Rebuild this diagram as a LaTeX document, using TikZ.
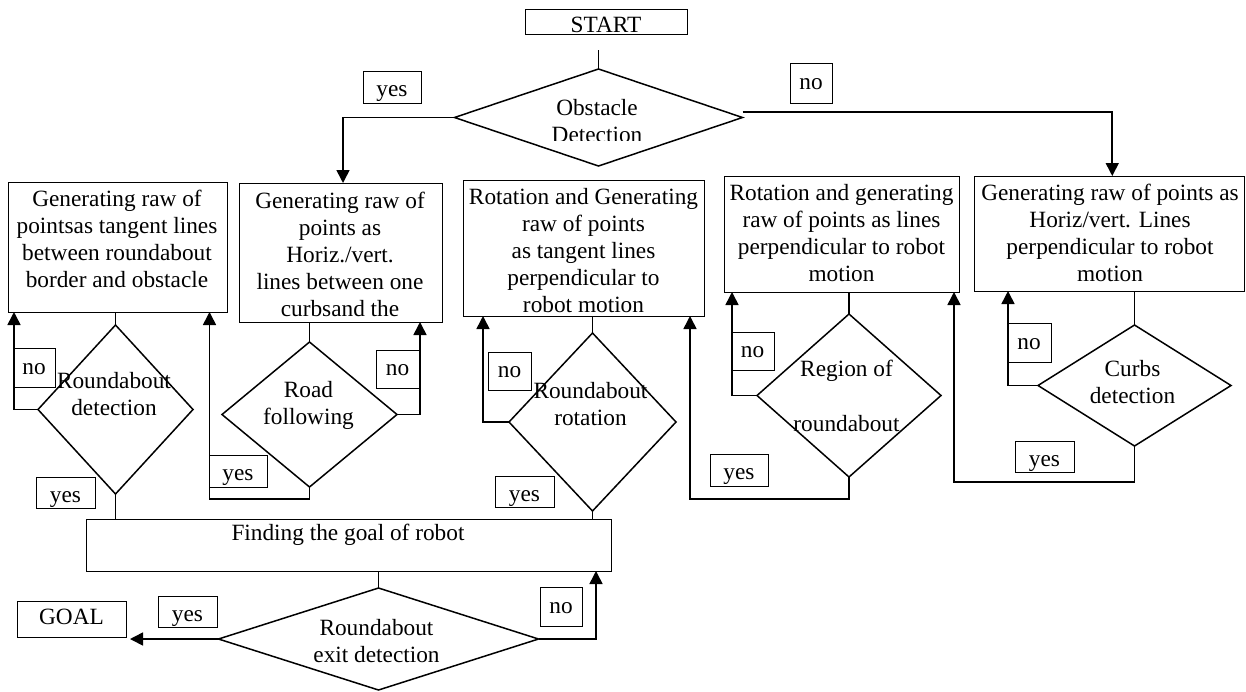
\documentclass[tikz,border=0pt]{standalone}
\usepackage{fontspec}
\setmainfont{Liberation Serif}
\usetikzlibrary{shapes.geometric,arrows.meta}
\tikzset{
  procbox/.style={draw, line width=1pt, inner sep=0pt, outer sep=0pt},
  decision/.style={draw, diamond, line width=1.5pt, inner sep=0pt, outer sep=0pt},
  txt/.style={align=center, inner sep=0pt},
  tag/.style={draw, line width=1pt, inner sep=0pt, outer sep=0pt},
  tagyes/.style={tag, text height=19pt, text depth=0pt},
  tagno/.style={tag, text height=13pt, text depth=0pt},
  flow/.style={line width=1.6pt},
  arr/.style={flow, -{Triangle[width=13pt,length=13pt]}},
}
\begin{document}
\begin{tikzpicture}[x=1pt, y=-1pt, font=\fontsize{23.3}{27}\selectfont]
\useasboundingbox (0,0) rectangle (1246,691);

% start and first decision
\node[tag, minimum width=162pt, minimum height=25pt, text height=21pt, text depth=0pt] (start) at (606,21.5) {START};
\node[decision, minimum width=288pt, minimum height=97pt] (obs) at (598.5,117.5) {};
\coordinate (s1) at ([yshift=19pt]obs.north);
\begin{scope}
  \clip (0,0) rectangle (1246,140.5);
  \node[txt] (obst) at (597,121.5) {Obstacle\\Detection};
\end{scope}

% process boxes
\node[procbox, minimum width=219pt, minimum height=130pt] (b1) at (117.5,247) {};
\node[txt] (b1t) at (117,239) {Generating raw of\\pointsas tangent lines\\between roundabout\\border and obstacle};
\node[procbox, minimum width=203pt, minimum height=139pt] (b2) at (340.5,252.5) {};
\node[txt] (b2t) at (340,254.5) {Generating raw of\\points as\\Horiz./vert.\\lines between one\\curbsand the};
\node[procbox, minimum width=241pt, minimum height=136pt] (b3) at (583.5,248) {};
\node[txt] (b3t) at (583.5,251) {Rotation and Generating\\raw of points\\as tangent lines\\perpendicular to\\robot motion};
\node[procbox, minimum width=235pt, minimum height=116pt] (b4) at (841.5,234) {};
\node[txt] (b4t) at (841.5,233) {Rotation and generating\\raw of points as lines\\perpendicular to robot\\motion};
\node[procbox, minimum width=270.5pt, minimum height=115pt] (b5) at (1109.25,233.5) {};
\node[txt] (b5t) at (1110,232.5) {Generating raw of points as\\Horiz/vert. Lines\\perpendicular to robot\\motion};

% decisions
\node[decision, minimum width=155pt, minimum height=169pt] (d1) at (115.5,409.5) {};
\node[txt] (d1t) at (114,394.5) {Roundabout\\detection};
\node[decision, minimum width=175pt, minimum height=145pt] (d2) at (309.5,414.5) {};
\node[txt] (d2t) at (308.5,405.5) {Road\\following};
\node[decision, minimum width=167pt, minimum height=178pt] (d3) at (592.5,422) {};
\node[txt] (d3t) at (590.5,404) {Roundabout\\rotation};
\node[decision, minimum width=184pt, minimum height=163pt] (d4) at (849,395.5) {};
\node[txt] (d4t) at (846.5,395.5) {Region of\\[28pt]roundabout};
\node[decision, minimum width=193pt, minimum height=121pt] (d5) at (1134.5,385.5) {};
\node[txt] (d5t) at (1132.5,382) {Curbs\\detection};

% goal finding
\node[procbox, minimum width=525pt, minimum height=52pt] (goal) at (348.5,545) {};
\node[txt] (goalt) at (348,535) {Finding the goal of robot};
\node[decision, minimum width=320pt, minimum height=102pt] (dx) at (378.5,639) {};
\node[txt] (dxt) at (376.5,641) {Roundabout\\exit detection};
\node[tag, minimum width=109pt, minimum height=36pt, text height=10pt, text depth=0pt] (end) at (71.5,619) {GOAL};
\coordinate (gtip) at (130,639);

% yes/no tags
\node[tagyes, minimum width=58pt, minimum height=32pt] (ty0) at (392,87) {yes};
\node[tagno, minimum width=42pt, minimum height=40pt] (tn0) at (811,83) {no};
\node[tagno, minimum width=42pt, minimum height=39pt] (tn1) at (34,367.5) {no};
\node[tagyes, minimum width=59pt, minimum height=31pt] (ty1) at (65.5,492.5) {yes};
\node[tagyes, minimum width=58pt, minimum height=32pt] (ty2) at (238,471) {yes};
\node[tagno, minimum width=43pt, minimum height=38pt] (tn2) at (397.5,369) {no};
\node[tagno, minimum width=43pt, minimum height=38pt] (tn3) at (509.5,371) {no};
\node[tagyes, minimum width=59pt, minimum height=31pt] (ty3) at (524.5,491.5) {yes};
\node[tagyes, minimum width=58pt, minimum height=32pt] (ty4) at (739,470) {yes};
\node[tagno, minimum width=43pt, minimum height=38pt] (tn4) at (752.5,351) {no};
\node[tagno, minimum width=44pt, minimum height=39pt] (tn5) at (1029,342.5) {no};
\node[tagyes, minimum width=59pt, minimum height=31pt] (ty5) at (1044.5,456.5) {yes};
\node[tagyes, minimum width=59pt, minimum height=31pt] (ty6) at (187.5,611.5) {yes};
\node[tagno, minimum width=42pt, minimum height=39pt] (tn6) at (561,606.5) {no};

% connectors
\draw[flow] (s1) -- (obs.north);
\draw[arr] (obs.west) -| ([xshift=2.5pt]b2.north);
\draw[arr] ([yshift=5.5pt]obs.east) -| ([xshift=3pt]b5.north);

\draw[flow] (d1.north |- b1.south) -- (d1.north);
\draw[arr] (d1.west) -| ([xshift=6pt]b1.south west);
\draw[flow] (d1.south) -- (d1.south |- goal.north);

\draw[flow] (d2.north |- b2.south) -- (d2.north);
\draw[arr] (d2.south) -- ++(0,12) -| ([xshift=-17.5pt]b1.south east);
\draw[arr] (d2.east) -| ([xshift=-22pt]b2.south east);

\draw[flow] (d3.north |- b3.south) -- (d3.north);
\draw[arr] (d3.west) -| ([xshift=20pt]b3.south west);
\draw[flow] (d3.south) -- (d3.south |- goal.north);

\draw[flow] (d4.north |- b4.south) -- (d4.north);
\draw[arr] (d4.south) -- ++(0,22) -| ([xshift=-14pt]b3.south east);
\draw[arr] (d4.west) -| ([xshift=8pt]b4.south west);

\draw[flow] (d5.north |- b5.south) -- (d5.north);
\draw[arr] (d5.south) -- ++(0,36) -| ([xshift=-5pt]b4.south east);
\draw[arr] (d5.west) -| ([xshift=34pt]b5.south west);

\draw[flow] (dx.north |- goal.south) -- (dx.north);
\draw[arr] (dx.west) -- (gtip);
\draw[arr] (dx.east) -| ([xshift=-15pt]goal.south east);
\end{tikzpicture}
\end{document}
